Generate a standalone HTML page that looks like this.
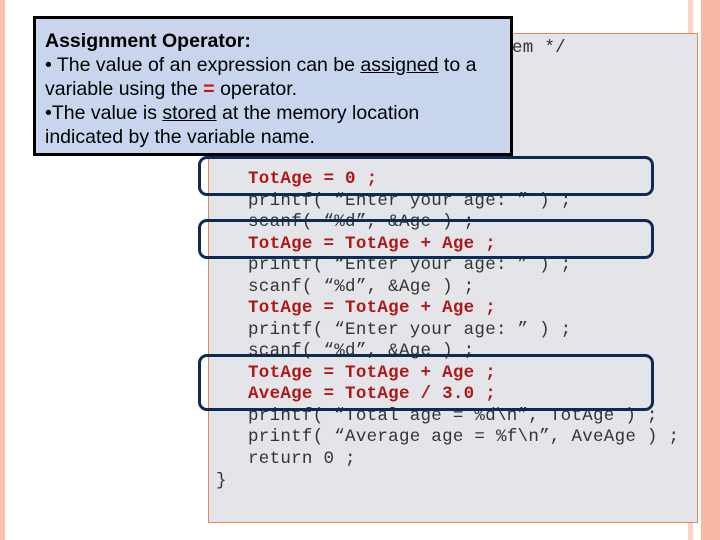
<!DOCTYPE html>
<html><head><meta charset="utf-8"><style>
body{margin:0;width:720px;height:540px;background:#fff;position:relative;overflow:hidden;font-family:"Liberation Sans",sans-serif}
.a{position:absolute}
.code{font-family:"Liberation Mono",monospace;font-size:17.5px;letter-spacing:0.28px;color:#333;white-space:pre;line-height:21.5px}
.r{color:#b01818;font-weight:bold}
.bx{position:absolute;border:3px solid #0f2a55;border-radius:9px;box-sizing:border-box}
</style></head><body>
<div class="a" style="left:0;top:0;width:5px;height:540px;background:#f9c0ad"></div>
<div class="a" style="left:688px;top:0;width:5px;height:540px;background:#fbd3c6"></div>
<div class="a" style="left:701px;top:0;width:19px;height:540px;background:#f9b8a4"></div>
<div class="a" style="left:208px;top:33px;width:488px;height:488px;background:#e4e5e9;border:1px solid #e08a5a"></div>
<div class="a code" style="left:512px;top:38px">em */</div>
<div class="a code" style="left:248px;top:169px"><span class="r">TotAge = 0 ;</span>
printf( “Enter your age: ” ) ;
scanf( “%d”, &amp;Age ) ;
<span class="r">TotAge = TotAge + Age ;</span>
printf( “Enter your age: ” ) ;
scanf( “%d”, &amp;Age ) ;
<span class="r">TotAge = TotAge + Age ;</span>
printf( “Enter your age: ” ) ;
scanf( “%d”, &amp;Age ) ;
<span class="r">TotAge = TotAge + Age ;</span>
<span class="r">AveAge = TotAge / 3.0 ;</span>
printf( “Total age = %d\n”, TotAge ) ;
printf( “Average age = %f\n”, AveAge ) ;
return 0 ;</div>
<div class="a code" style="left:216px;top:471px">}</div>
<div class="bx" style="left:198px;top:156px;width:456px;height:40px"></div>
<div class="bx" style="left:198px;top:219px;width:456px;height:40px"></div>
<div class="bx" style="left:198px;top:354px;width:456px;height:57px"></div>
<div class="a" style="left:33px;top:16px;width:474px;height:134px;background:#c8d5ec;border:3px solid #000"></div>
<div class="a" style="left:45px;top:29px;font-size:19.5px;line-height:24px;color:#000;white-space:nowrap">
<b>Assignment Operator:</b><br>
• The value of an expression can be <u>assigned</u> to a<br>
variable using the <b style="color:#d01010">=</b> operator.<br>
•The value is <u>stored</u> at the memory location<br>
indicated by the variable name.</div>
</body></html>
